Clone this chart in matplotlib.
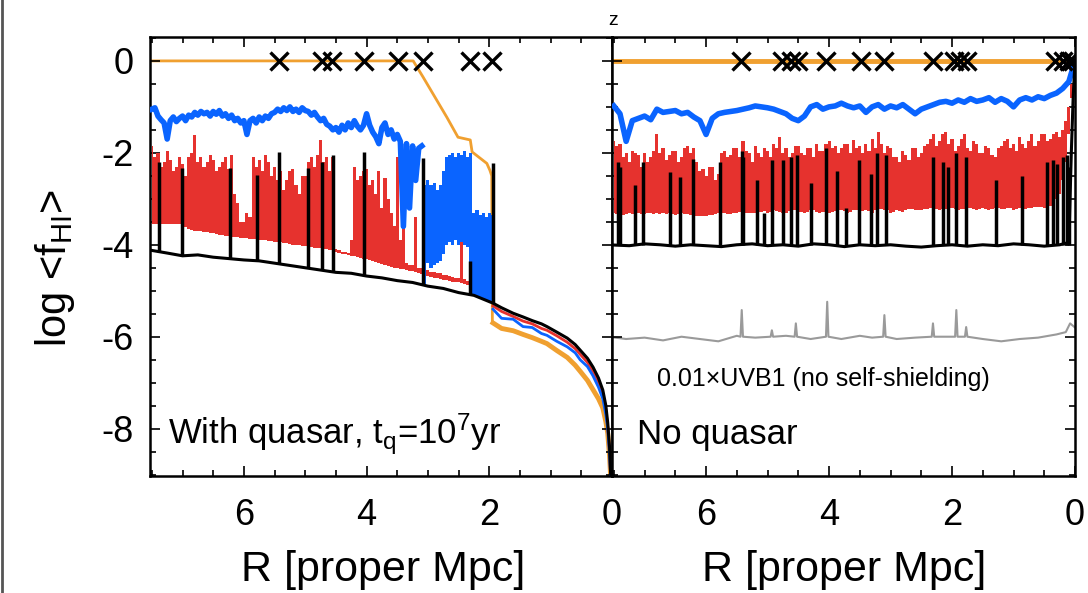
import numpy as np
import matplotlib
matplotlib.use('Agg')
import matplotlib.pyplot as plt
from matplotlib.ticker import MultipleLocator

plt.rcParams['font.family'] = ['Liberation Sans', 'DejaVu Sans']
plt.rcParams['axes.unicode_minus'] = False
plt.rcParams['mathtext.fontset'] = 'custom'
plt.rcParams['mathtext.rm'] = 'Liberation Sans'
plt.rcParams['mathtext.it'] = 'Liberation Sans:italic'

ORANGE = '#F0A030'
BLUE = '#0a64ff'
RED = '#e6322e'
GREY = '#9a9a9a'

# ---------------- left panel: with quasar ----------------
# blue run, noisy part, R = 7.50 ... 3.10 Mpc in 0.05 steps
R_blue_left = np.linspace(7.5, 3.1, 89)
blue_left = [
    -1.05, -1.02, -1.2, -1.28, -1.35, -1.7, -1.3, -1.22, -1.32, -1.25,
    -1.2, -1.3, -1.18, -1.22, -1.12, -1.18, -1.1, -1.15, -1.12, -1.2,
    -1.1, -1.16, -1.08, -1.2, -1.15, -1.25, -1.18, -1.3, -1.25, -1.35,
    -1.3, -1.6, -1.3, -1.25, -1.35, -1.22, -1.3, -1.2, -1.25, -1.15,
    -1.12, -1.05, -1.1, -1.02, -1.08, -1.0, -1.1, -1.05, -1.12, -1.02,
    -1.08, -1.1, -1.18, -1.12, -1.22, -1.3, -1.25, -1.38, -1.42, -1.5,
    -1.45, -1.55, -1.4, -1.5, -1.35, -1.45, -1.3, -1.42, -1.5, -1.4,
    -1.15, -1.4, -1.55, -1.65, -1.8, -1.45, -1.35, -1.6, -1.5, -1.7,
    -1.6, -1.75, -3.6, -1.8, -3.2, -1.85, -2.6, -1.9, -1.85,
]
# blue run, band where it flickers, R = 3.05 ... 1.95
R_blue_band = np.linspace(3.05, 1.95, 23)
blue_band_top = [-2.7, -2.6, -2.7, -2.65, -2.8, -2.7, -2.4, -2.1, -2.05, -2.0,
                 -2.1, -2.0, -2.05, -1.95, -2.1, -2.0, -3.3, -3.25, -3.35, -3.3,
                 -3.4, -3.3, -3.35]
blue_band_bot = [-4.88, -4.4, -4.5, -4.45, -4.4, -4.35, -4.2, -4.0, -3.95, -4.0,
                 -3.9, -4.0, -3.95, -4.0, -4.05, -5.05, -5.1, -5.12, -5.15, -5.17,
                 -5.2, -5.22, -5.27]

# red run, R = 7.50 ... 1.95 in 0.05 steps: spiky top and lower envelope
R_red_left = np.linspace(7.5, 1.95, 112)
red_left_top = [
    -1.85, -2.1, -2.0, -2.3, -2.2, -1.95, -2.15, -2.4, -2.3, -2.1,
    -2.25, -2.5, -2.1, -2.0, -1.62, -2.2, -2.1, -2.3, -2.2, -2.05,
    -2.15, -2.4, -2.3, -2.2, -2.1, -2.35, -2.05, -2.9, -3.1, -3.5,
    -3.5, -3.3, -3.4, -2.1, -2.3, -2.15, -2.4, -2.05, -2.2, -2.5,
    -2.3, -2.6, -2.4, -2.8, -2.6, -2.4, -2.35, -2.7, -2.9, -2.5,
    -2.5, -2.2, -2.1, -2.3, -2.05, -1.72, -2.2, -2.1, -2.4, -2.1,
    -4.1, -4.12, -4.15, -4.15, -4.18, -3.9, -2.3, -2.6, -2.5, -2.4,
    -2.35, -2.7, -2.6, -2.9, -2.4, -3.2, -2.55, -3.0, -3.3, -3.6,
    -2.1, -3.9, -2.1, -4.4, -4.45, -4.45, -3.4, -4.5, -4.5, -4.55,
    -4.55, -4.6, -4.6, -4.62, -4.62, -4.65, -4.65, -4.68, -4.7, -4.72,
    -4.72, -2.66, -4.75, -4.78, -4.95, -4.97, -5.0, -5.02, -5.05, -5.07,
    -5.1, -5.15,
]
red_left_bot = [
    -3.55, -3.55, -3.55, -3.55, -3.55, -3.55, -3.55, -3.55, -3.55, -3.55,
    -3.6, -3.62, -3.65, -3.68, -3.7, -3.7, -3.7, -3.72, -3.72, -3.75,
    -3.75, -3.76, -3.78, -3.78, -3.8, -3.8, -3.82, -3.82, -3.84, -3.85,
    -3.85, -3.86, -3.87, -3.88, -3.88, -3.9, -3.9, -3.9, -3.92, -3.92,
    -3.93, -3.94, -3.95, -3.96, -3.97, -3.98, -4.0, -4.0, -4.01, -4.02,
    -4.03, -4.04, -4.05, -4.06, -4.07, -4.08, -4.09, -4.1, -4.11, -4.12,
    -4.15, -4.17, -4.2, -4.2, -4.22, -4.24, -4.25, -4.27, -4.28, -4.3,
    -4.32, -4.34, -4.36, -4.38, -4.4, -4.42, -4.44, -4.46, -4.48, -4.5,
    -4.5, -4.52, -4.53, -4.55, -4.56, -4.58, -4.6, -4.62, -4.64, -4.66,
    -4.68, -4.7, -4.72, -4.73, -4.74, -4.76, -4.77, -4.78, -4.8, -4.81,
    -4.82, -4.84, -4.85, -4.88, -5.02, -5.04, -5.06, -5.08, -5.1, -5.12,
    -5.17, -5.22,
]

# inner part, where all runs follow the ionised profile down to R = 0
R_inner = [1.94, 1.8, 1.61, 1.45, 1.3, 1.15, 1.06, 0.9, 0.73, 0.6,
           0.52, 0.4, 0.31, 0.22, 0.15, 0.1, 0.07, 0.04, 0.02, 0.0]
black_inner = [-5.27, -5.37, -5.49, -5.57, -5.65, -5.72, -5.78, -5.9, -6.03, -6.17,
               -6.29, -6.47, -6.66, -6.9, -7.16, -7.5, -7.87, -8.4, -9.05, -9.6]
red_inner = [-5.33, -5.45, -5.56, -5.66, -5.72, -5.82, -5.86, -5.98, -6.12, -6.26,
             -6.38, -6.56, -6.75, -7.0, -7.25, -7.6, -7.95, -8.5, -9.1, -9.6]
blue_inner = [-5.4, -5.6, -5.62, -5.78, -5.8, -5.93, -5.97, -6.1, -6.22, -6.35,
              -6.5, -6.65, -6.85, -7.1, -7.35, -7.7, -8.0, -8.55, -9.1, -9.6]
orange_inner = [-5.7, -5.82, -5.87, -5.95, -6.02, -6.1, -6.15, -6.3, -6.45, -6.62,
                -6.75, -6.95, -7.15, -7.35, -7.55, -7.85, -8.1, -8.6, -9.1, -9.6]

orange_left_R = [7.6, 3.24, 3.08, 2.69, 2.51, 2.31, 2.28, 2.04, 1.99, 1.96, 1.95]
orange_left = [0.0, 0.0, -0.35, -1.23, -1.66, -1.72, -1.98, -2.23, -2.38, -2.5, -5.65]

black_left_R = [7.6, 7.25, 7.0, 6.75, 6.5, 6.25, 6.0, 5.75, 5.5, 5.25, 5.0,
                4.75, 4.5, 4.25, 4.0, 3.75, 3.5, 3.25, 3.0, 2.75, 2.5, 2.25]
black_left = [-4.1, -4.18, -4.24, -4.22, -4.27, -4.3, -4.33, -4.35, -4.4, -4.45, -4.5,
              -4.55, -4.6, -4.62, -4.68, -4.72, -4.78, -4.82, -4.9, -4.95, -5.04, -5.1]

spike_left_R = [7.39, 7.01, 6.22, 5.79, 5.43, 4.95, 4.73, 4.54, 4.05, 3.08, 2.31, 1.94]
spike_left_base = [-4.15, -4.24, -4.3, -4.35, -4.41, -4.51, -4.55, -4.59, -4.67, -4.88, -5.09, -5.27]
spike_left_top = [-2.2, -2.34, -2.34, -2.48, -1.98, -2.34, -2.2, -2.05, -1.98, -2.12, -4.35, -2.23]

lls_left = [5.43, 4.72, 4.56, 4.05, 3.49, 3.08, 2.31, 1.95]

# ---------------- right panel: no quasar ----------------
R_red_right = np.linspace(7.5, 0.0, 151)
red_right_top = [
    -1.75, -1.85, -1.8, -2.1, -2.0, -2.2, -1.95, -2.0, -2.05, -2.3,
    -2.0, -2.2, -2.1, -1.95, -1.6, -2.0, -1.9, -2.15, -2.05, -1.95,
    -1.95, -2.2, -2.1, -1.9, -1.85, -2.0, -1.9, -2.2, -2.4, -2.35,
    -2.5, -2.3, -2.3, -2.6, -2.45, -2.0, -1.95, -2.1, -2.05, -1.9,
    -1.9, -2.1, -1.75, -1.95, -2.0, -2.2, -1.85, -2.0, -2.1, -1.9,
    -1.95, -2.1, -1.8, -1.9, -1.65, -2.0, -1.9, -2.1, -2.0, -1.85,
    -1.85, -2.0, -2.05, -1.9, -1.9, -2.1, -1.8, -1.95, -1.95, -1.8,
    -1.75, -1.9, -1.85, -2.0, -1.9, -1.8, -1.8, -2.0, -1.72, -1.9,
    -1.85, -2.0, -1.8, -1.95, -1.7, -1.9, -1.55, -1.8, -2.0, -1.85,
    -1.9, -2.1, -2.1, -2.2, -1.95, -2.05, -2.15, -1.9, -1.9, -2.1,
    -2.0, -1.85, -1.8, -1.7, -1.6, -1.85, -1.75, -1.6, -1.55, -1.8,
    -1.7, -1.95, -1.85, -1.7, -1.6, -1.9, -1.95, -1.75, -1.8, -2.0,
    -2.0, -1.85, -1.9, -2.05, -2.1, -1.9, -1.85, -1.75, -1.7, -1.9,
    -1.8, -1.95, -1.65, -1.8, -1.9, -1.75, -1.6, -1.85, -1.75, -1.6,
    -1.6, -1.75, -1.7, -1.6, -1.55, -1.65, -1.5, -1.3, -1.0, -0.5,
    0.0,
]
red_right_bot = [
    -3.3, -3.32, -3.3, -3.35, -3.32, -3.3, -3.33, -3.35, -3.3, -3.32,
    -3.32, -3.3, -3.3, -3.33, -3.3, -3.32, -3.3, -3.32, -3.3, -3.34,
    -3.35, -3.33, -3.3, -3.32, -3.33, -3.35, -3.35, -3.37, -3.38, -3.38,
    -3.38, -3.36, -3.35, -3.33, -3.3, -3.3, -3.3, -3.32, -3.32, -3.3,
    -3.3, -3.28, -3.28, -3.3, -3.3, -3.3, -3.3, -3.28, -3.28, -3.27,
    -3.3, -3.28, -3.25, -3.27, -3.28, -3.3, -3.3, -3.27, -3.25, -3.25,
    -3.28, -3.28, -3.3, -3.28, -3.25, -3.25, -3.28, -3.3, -3.28, -3.28,
    -3.3, -3.28, -3.27, -3.25, -3.25, -3.27, -3.3, -3.28, -3.25, -3.25,
    -3.28, -3.27, -3.25, -3.27, -3.3, -3.25, -3.22, -3.22, -3.25, -3.25,
    -3.3, -3.28, -3.25, -3.27, -3.28, -3.25, -3.22, -3.23, -3.25, -3.25,
    -3.25, -3.23, -3.22, -3.2, -3.2, -3.22, -3.25, -3.23, -3.22, -3.22,
    -3.2, -3.22, -3.25, -3.23, -3.22, -3.2, -3.2, -3.22, -3.25, -3.22,
    -3.2, -3.22, -3.25, -3.22, -3.2, -3.2, -3.22, -3.22, -3.2, -3.2,
    -3.25, -3.22, -3.2, -3.2, -3.22, -3.2, -3.2, -3.18, -3.18, -3.18,
    -3.2, -3.18, -3.15, -3.1, -3.0, -2.9, -2.6, -2.2, -1.6, -0.8,
    0.0,
]

R_blue_right = np.linspace(7.5, 0.0, 76)
blue_right = [
    -0.98, -1.15, -1.75, -1.3, -1.25, -1.2, -1.28, -1.05, -1.12, -1.1,
    -1.08, -1.15, -1.12, -1.22, -1.3, -1.6, -1.25, -1.15, -1.12, -1.1,
    -1.08, -1.05, -1.02, -0.98, -1.0, -1.02, -1.05, -1.1, -1.15, -1.25,
    -1.3, -1.2, -1.0, -0.95, -1.05, -1.0, -0.98, -0.92, -0.98, -1.02,
    -0.98, -1.12, -1.0, -0.95, -1.05, -0.98, -1.02, -0.95, -1.05, -1.15,
    -1.05, -1.0, -0.95, -0.9, -0.88, -0.92, -0.85, -0.9, -0.82, -0.88,
    -0.85, -0.8, -0.9, -0.82, -0.88, -1.0, -0.85, -0.8, -0.85, -0.78,
    -0.82, -0.75, -0.7, -0.6, -0.45, 0.0,
]

black_right_R = [7.6, 7.25, 7.0, 6.75, 6.5, 6.25, 6.0, 5.75, 5.5, 5.25, 5.0, 4.75,
                 4.5, 4.25, 4.0, 3.75, 3.5, 3.25, 3.0, 2.75, 2.5, 2.25, 2.0, 1.75,
                 1.5, 1.25, 1.0, 0.75, 0.5, 0.25, 0.1, 0.06, 0.03, 0.0]
black_right = [-4.0, -4.02, -3.98, -4.0, -4.03, -4.0, -4.02, -4.04, -4.0, -3.98, -4.02, -4.0,
               -4.03, -3.98, -4.0, -4.04, -4.0, -4.02, -4.0, -4.03, -4.05, -4.02, -4.0, -4.03,
               -4.0, -4.02, -3.98, -4.0, -4.03, -4.0, -3.95, -2.0, -0.8, 0.0]

spike_right_R = [7.44, 7.40, 7.15, 7.02, 6.58, 6.42, 6.22, 5.77, 5.42, 5.40, 5.17, 5.05,
                 4.92, 4.75, 4.62, 4.52, 4.30, 4.05, 3.87, 3.72, 3.51, 3.32, 3.22, 3.07,
                 2.31, 2.15, 2.07, 1.93, 1.77, 1.28, 0.87, 0.46, 0.36, 0.29, 0.19, 0.13, 0.09]
spike_right_top = [-2.2, -2.3, -2.7, -2.2, -2.42, -2.53, -2.13, -2.2, -1.95, -2.1, -2.6, -3.3,
                   -2.15, -2.15, -2.1, -2.05, -2.65, -1.9, -2.4, -3.2, -2.16, -2.45, -2.0, -2.05,
                   -2.09, -2.2, -2.3, -2.0, -2.1, -2.6, -2.5, -2.2, -2.15, -2.25, -2.1, -2.05, -2.3]

grey_R = [7.6, 7.3, 7.0, 6.7, 6.4, 6.1, 5.8, 5.5, 5.44, 5.42, 5.40, 5.2,
          4.95, 4.93, 4.91, 4.7, 4.56, 4.54, 4.52, 4.3, 4.05, 4.03, 4.01, 3.8,
          3.5, 3.3, 3.12, 3.10, 3.08, 2.9, 2.6, 2.33, 2.31, 2.29, 2.1, 1.95,
          1.93, 1.91, 1.79, 1.77, 1.75, 1.5, 1.2, 0.9, 0.6, 0.3, 0.15, 0.08, 0.0]
grey_uvb = [-6.0, -6.05, -6.02, -6.08, -6.0, -6.05, -6.1, -5.98, -6.0, -5.42, -6.0, -6.02,
            -6.0, -5.86, -6.0, -5.98, -6.0, -5.71, -6.0, -6.05, -6.0, -5.24, -6.0, -6.05,
            -5.98, -6.02, -6.0, -5.53, -6.0, -6.05, -6.02, -6.0, -5.71, -6.0, -6.0, -6.0,
            -5.42, -6.0, -6.0, -5.79, -6.0, -6.05, -6.1, -6.05, -6.02, -5.95, -5.9, -5.71, -5.8]

lls_right = [5.44, 4.76, 4.62, 4.51, 4.05, 3.48, 3.10, 2.31, 1.97, 1.87, 1.75, 0.32, 0.20, 0.09, 0.03]


def style(ax, show_y):
    ax.set_xlim(7.53, 0)
    ax.set_ylim(-9.03, 0.52)
    ax.xaxis.set_major_locator(MultipleLocator(2))
    ax.xaxis.set_minor_locator(MultipleLocator(0.5))
    ax.yaxis.set_major_locator(MultipleLocator(2))
    ax.yaxis.set_minor_locator(MultipleLocator(0.5))
    ax.tick_params(which='both', direction='in', top=True, right=True, width=1.2)
    ax.tick_params(which='major', length=7)
    ax.tick_params(which='minor', length=4)
    ax.tick_params(axis='x', labelsize=26, pad=16)
    ax.tick_params(axis='y', labelsize=26, pad=12, labelleft=show_y)
    for s in ax.spines.values():
        s.set_linewidth(1.8)


fig = plt.figure(figsize=(10.88, 5.93), dpi=100)
ax1 = fig.add_axes([150 / 1088, 117 / 593, 462 / 1088, 439 / 593])
ax2 = fig.add_axes([612 / 1088, 117 / 593, 463 / 1088, 439 / 593])

# left panel
ax1.plot(orange_left_R, orange_left, color=ORANGE, lw=2.0, zorder=1)
ax1.plot(R_inner, orange_inner, color=ORANGE, lw=3.5, zorder=1)
ax1.fill_between(R_red_left, red_left_bot, red_left_top, step='mid', color=RED, lw=0, zorder=2)
ax1.plot(R_inner, red_inner, color=RED, lw=2.0, zorder=2)
ax1.plot(R_blue_left, blue_left, color=BLUE, lw=4.0, zorder=3)
ax1.fill_between(R_blue_band, blue_band_bot, blue_band_top, step='mid', color=BLUE, lw=0, zorder=3)
ax1.plot(R_inner, blue_inner, color=BLUE, lw=2.0, zorder=3)
ax1.plot(black_left_R + R_inner, black_left + black_inner, color='k', lw=2.2, zorder=4)
ax1.vlines(spike_left_R, spike_left_base, spike_left_top, color='k', lw=2.5, zorder=4)
ax1.plot(lls_left, np.zeros(len(lls_left)), 'x', color='k', ms=13, mew=2.4, zorder=5)
ax1.text(0.039, 0.072, r'With quasar, t$_\mathrm{q}$=10$^\mathrm{7}$yr', transform=ax1.transAxes,
         fontsize=25, va='baseline', ha='left')
style(ax1, True)

# right panel
ax2.plot([7.6, 0.0], [0.0, 0.0], color=ORANGE, lw=3.5, zorder=1)
ax2.plot(grey_R, grey_uvb, color=GREY, lw=1.5, zorder=1)
ax2.fill_between(R_red_right, red_right_bot, red_right_top, step='mid', color=RED, lw=0, zorder=2)
ax2.plot(R_blue_right, blue_right, color=BLUE, lw=4.0, zorder=3)
ax2.plot(black_right_R, black_right, color='k', lw=2.2, zorder=4)
ax2.vlines(spike_right_R, -4.0, spike_right_top, color='k', lw=2.5, zorder=4)
ax2.plot(lls_right, np.zeros(len(lls_right)), 'x', color='k', ms=13, mew=2.4, zorder=5)
ax2.text(0.054, 0.072, 'No quasar', transform=ax2.transAxes, fontsize=25, va='baseline', ha='left')
ax2.text(0.097, 0.205, '0.01\u00d7UVB1 (no self-shielding)', transform=ax2.transAxes,
         fontsize=18, va='baseline', ha='left')
style(ax2, False)

fig.text(383 / 1088, 1 - 570 / 593, 'R [proper Mpc]', fontsize=31, ha='center', va='center')
fig.text(844 / 1088, 1 - 570 / 593, 'R [proper Mpc]', fontsize=31, ha='center', va='center')
fig.text(55 / 1088, 1 - 268 / 593, r'log <f$_\mathrm{HI}$>', fontsize=30, rotation=90,
         ha='center', va='center')
fig.text(613 / 1088, 1 - 25 / 593, 'z', fontsize=14, ha='center', va='baseline')
fig.add_artist(plt.Line2D([0.0015, 0.0015], [0, 1], transform=fig.transFigure, color='#555555', lw=2))

fig.savefig('out.png', dpi=100)
